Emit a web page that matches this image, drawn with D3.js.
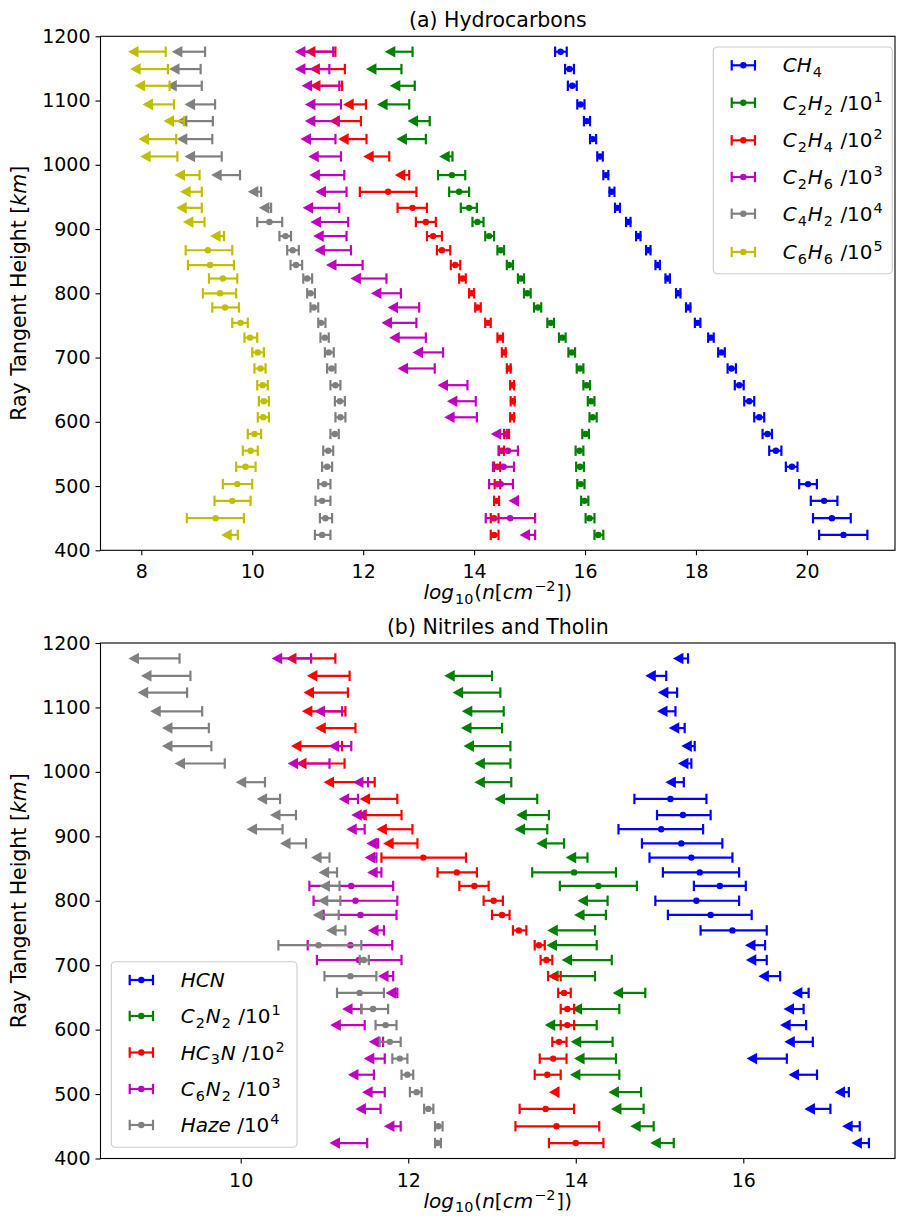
<!DOCTYPE html>
<html>
<head>
<meta charset="utf-8">
<title>Column densities by tangent height</title>
<script src="https://cdn.jsdelivr.net/npm/d3@7"></script>
<style>
  body { margin: 0; background: #fff; }
  text { font-family: "DejaVu Sans", sans-serif; fill: #000; }
</style>
</head>
<body>
<script>
// tangent heights (km), shared by both panels
heights = [1176, 1149, 1123, 1094, 1068, 1040, 1013, 984, 958, 933, 911, 889, 867, 844, 823, 800,
           778, 754, 731, 708, 683, 657, 632, 607, 581, 555, 530, 503, 477, 450, 424];

// rows: [lo, value, hi] = measured with error bar, [tip, cap] = upper limit, null = none
ch4 = [[15.46,15.56,15.67],[15.64,15.72,15.80],[15.69,15.77,15.85],[15.86,15.92,15.99],[15.98,16.03,16.09],[16.09,16.14,16.20],[16.22,16.27,16.32],[16.33,16.38,16.42],[16.44,16.48,16.53],[16.54,16.58,16.63],[16.74,16.78,16.82],[16.92,16.96,17.00],[17.10,17.14,17.18],[17.27,17.31,17.35],[17.45,17.49,17.53],[17.64,17.68,17.72],[17.82,17.86,17.90],[17.98,18.03,18.08],[18.22,18.27,18.32],[18.40,18.46,18.52],[18.57,18.64,18.72],[18.70,18.78,18.86],[18.87,18.96,19.05],[19.05,19.14,19.23],[19.20,19.29,19.37],[19.32,19.44,19.54],[19.62,19.73,19.83],[19.86,20.02,20.18],[20.07,20.31,20.55],[20.11,20.45,20.79],[20.22,20.66,21.09]];
c2h2 = [[12.39,12.89],[12.05,12.69],[12.48,12.93],[12.25,12.83],[12.80,13.20],[12.60,13.13],[13.37,13.61],[13.35,13.60,13.84],[13.55,13.73,13.91],[13.76,13.91,14.05],[13.97,14.06,14.17],[14.20,14.27,14.36],[14.42,14.48,14.54],[14.59,14.63,14.70],[14.79,14.84,14.90],[14.90,14.96,15.02],[15.08,15.15,15.21],[15.32,15.38,15.44],[15.53,15.59,15.65],[15.70,15.76,15.82],[15.85,15.91,15.97],[15.97,16.03,16.09],[16.05,16.11,16.17],[16.08,16.14,16.21],[15.95,16.01,16.07],[15.83,15.90,15.97],[15.84,15.91,15.98],[15.86,15.92,15.99],[15.93,15.99,16.06],[16.01,16.08,16.17],[16.17,16.24,16.33]];
c2h4 = [[10.95,11.50],[11.03,11.67],[11.04,11.62],[11.64,12.05],[11.39,11.96],[11.55,12.06],[12.00,12.47],[12.57,12.83],[11.94,12.45,12.96],[12.62,12.89,13.15],[12.95,13.13,13.31],[13.15,13.26,13.42],[13.33,13.42,13.57],[13.58,13.66,13.75],[13.73,13.79,13.85],[13.91,13.96,14.00],[14.02,14.06,14.12],[14.20,14.25,14.30],[14.42,14.47,14.52],[14.50,14.54,14.57],[14.59,14.63,14.66],[14.65,14.69,14.72],[14.66,14.70,14.73],[14.65,14.69,14.72],[14.54,14.59,14.63],[14.45,14.50,14.54],[14.36,14.42,14.47],[14.37,14.42,14.47],[14.36,14.41,14.45],[14.30,14.36,14.44],[14.30,14.36,14.44]];
c2h6 = [[10.77,11.46],[10.77,11.39],[10.89,11.57],[10.95,11.60],[10.95,11.55],[10.87,11.50],[11.01,11.60],[11.03,11.66],[11.14,11.70],[10.91,11.57],[11.05,11.73],[11.10,11.70],[11.12,11.78],[11.33,11.99],[11.77,12.42],[12.14,12.68],[12.44,13.01],[12.33,12.96],[12.47,13.13],[12.89,13.44],[12.62,13.29],[13.34,13.88],[13.51,14.03],[13.46,14.05],[14.30,14.59],[14.44,14.61,14.79],[14.34,14.53,14.72],[14.27,14.48,14.70],[14.62,14.79],[14.21,14.65,15.10],[14.82,15.10]];
c4h2 = [[8.55,9.15],[8.50,9.07],[8.45,9.09],[8.78,9.33],[8.64,9.29],[8.64,9.28],[8.78,9.45],[9.26,9.78],[9.92,10.16],[10.12,10.34],[10.09,10.31,10.54],[10.49,10.60,10.70],[10.63,10.73,10.84],[10.69,10.79,10.90],[10.92,10.99,11.08],[10.99,11.05,11.13],[11.05,11.11,11.19],[11.19,11.24,11.32],[11.23,11.31,11.38],[11.31,11.38,11.47],[11.35,11.43,11.50],[11.41,11.50,11.59],[11.49,11.58,11.67],[11.50,11.59,11.68],[11.41,11.49,11.56],[11.28,11.37,11.46],[11.26,11.35,11.44],[11.19,11.30,11.41],[11.14,11.26,11.41],[11.22,11.32,11.44],[11.13,11.26,11.41]];
c6h6 = [[7.76,8.44],[7.80,8.48],[7.88,8.51],[8.02,8.59],[8.40,8.77],[7.95,8.63],[7.98,8.65],[8.60,9.05],[8.70,9.09],[8.63,9.09],[8.75,9.14],[9.24,9.49],[8.80,9.20,9.64],[8.84,9.24,9.67],[9.22,9.47,9.73],[9.11,9.42,9.71],[9.28,9.51,9.76],[9.64,9.79,9.92],[9.86,9.96,10.09],[10.00,10.10,10.21],[10.04,10.15,10.24],[10.09,10.19,10.28],[10.12,10.21,10.30],[10.10,10.20,10.30],[9.92,10.04,10.16],[9.83,9.97,10.10],[9.71,9.88,10.06],[9.47,9.73,10.00],[9.32,9.64,9.97],[8.82,9.34,9.85],[9.44,9.74]];

hcn = [[15.16,15.34],[14.83,15.08],[14.98,15.21],[14.97,15.19],[15.11,15.30],[15.26,15.42],[15.22,15.38],[15.07,15.29],[14.70,15.13,15.56],[14.97,15.28,15.61],[14.51,15.02,15.52],[14.79,15.26,15.75],[14.88,15.38,15.87],[15.04,15.48,15.95],[15.41,15.72,16.03],[14.95,15.44,15.95],[15.10,15.61,16.10],[15.49,15.87,16.28],[16.02,16.26],[16.03,16.28],[16.18,16.44],[16.58,16.78],[16.48,16.72],[16.44,16.75],[16.49,16.83],[16.04,16.52],[16.54,16.88],[17.09,17.26],[16.73,17.04],[17.18,17.39],[17.29,17.50]];
c2n2 = [null,[12.43,13.00],[12.53,13.10],[12.64,13.14],[12.63,13.12],[12.66,13.22],[12.79,13.22],[12.79,13.23],[13.03,13.54],[13.29,13.68],[13.27,13.66],[13.53,13.86],[13.88,14.14],[13.48,13.98,14.48],[13.81,14.27,14.73],[14.02,14.38],[13.98,14.36],[13.66,14.23],[13.65,14.25],[13.83,14.43],[13.67,14.23],[14.44,14.83],[13.95,14.52],[13.63,14.25],[13.94,14.44],[13.98,14.48],[13.93,14.52],[14.39,14.78],[14.42,14.81],[14.65,14.93],[14.89,15.17]];
hc3n = [[10.54,11.13],[10.79,11.30],[10.75,11.28],[10.73,11.25],[10.89,11.37],[10.60,11.21],[10.66,11.24],[10.99,11.60],[11.42,11.87],[11.38,11.92],[11.62,12.05],[11.70,12.11],[11.68,12.18,12.69],[12.35,12.58,12.82],[12.61,12.79,12.96],[12.90,13.02,13.13],[13.00,13.12,13.21],[13.25,13.32,13.41],[13.51,13.56,13.63],[13.58,13.65,13.72],[13.67,13.75,13.82],[13.79,13.86,13.94],[13.82,13.90,13.98],[13.82,13.90,13.98],[13.72,13.80,13.89],[13.57,13.73,13.89],[13.51,13.66,13.82],[13.68,13.79],[13.33,13.64,13.98],[13.28,13.77,14.28],[13.68,14.00,14.33]];
c6n2 = [[10.37,10.84],null,null,[10.88,11.21],null,[11.05,11.32],[10.56,11.06],[11.34,11.52],[11.17,11.40],[11.32,11.48],[11.26,11.48],[11.50,11.64],[11.48,11.62],[11.51,11.68],[10.82,11.32,11.82],[10.87,11.37,11.87],[10.99,11.43,11.86],[11.52,11.71],[10.80,11.31,11.81],[10.91,11.41,11.92],[11.64,11.82],[11.73,11.87],[11.21,11.44],[11.07,11.48],[11.53,11.70],[11.47,11.72],[11.28,11.59],[11.45,11.72],[11.37,11.67],[11.71,11.91],[11.06,11.51]];
haze = [[8.66,9.27],[8.81,9.40],[8.77,9.36],[8.92,9.54],[9.06,9.62],[9.06,9.65],[9.21,9.81],[9.94,10.29],[10.19,10.47],[10.35,10.66],[10.07,10.50],[10.47,10.78],[10.84,11.06],[10.93,11.15],[10.94,11.18],[10.92,11.19],[10.86,11.17],[11.02,11.25],[10.45,10.93,11.44],[11.42,11.47,11.53],[11.00,11.31,11.62],[11.15,11.42,11.71],[11.44,11.58,11.76],[11.61,11.73,11.86],[11.66,11.78,11.91],[11.81,11.90,11.99],[11.92,11.99,12.06],[12.02,12.10,12.16],[12.19,12.24,12.30],[12.32,12.36,12.41],[12.32,12.35,12.39]];

topLabels = ["CH_4", "C_2H_2 /10^1", "C_2H_4 /10^2", "C_2H_6 /10^3", "C_4H_2 /10^4", "C_6H_6 /10^5"];
bottomLabels = ["HCN", "C_2N_2 /10^1", "HC_3N /10^2", "C_6N_2 /10^3", "Haze /10^4"];
colors = ["#0000ff", "#008000", "#ff0000", "#bf00bf", "#808080", "#bfbf00"];
yTicks = [400, 500, 600, 700, 800, 900, 1000, 1100, 1200];

panels = [
  {
    title: "(a) Hydrocarbons", top: 36.3, bottom: 550.3,
    xDomain: [7.2645, 21.588], xTicks: [8, 10, 12, 14, 16, 18, 20],
    series: [ch4, c2h2, c2h4, c2h6, c4h2, c6h6], labels: topLabels,
    legend: { x: 713.3, y: 47, w: 179, h: 226.7, rows: [18.3, 55.7, 93.3, 130, 166.7, 205] }
  },
  {
    title: "(b) Nitriles and Tholin", top: 643, bottom: 1158.5,
    xDomain: [8.3264, 17.811], xTicks: [10, 12, 14, 16],
    series: [hcn, c2n2, hc3n, c6n2, haze], labels: bottomLabels,
    legend: { x: 111.3, y: 961.7, w: 185.7, h: 185.6, rows: [18.3, 54.3, 90.8, 127.3, 163.3] }
  }
];

left = 100.5;
right = 895;
fs = 19;

svg = d3.select("body").append("svg")
  .attr("width", 897)
  .attr("height", 1216);

// letters italic, _n subscript, ^n superscript, the rest upright
function mathText(sel, str, size) {
  var parts = str.match(/_\d+|\^[−-]?\d+|[A-Za-z]+|[^A-Za-z_^]+/g);
  var shift = 0;
  parts.forEach(function(p) {
    var t = sel.append("tspan"), target = 0;
    if (p[0] == "_") {
      target = 0.24 * size;
      t.text(p.slice(1)).attr("font-size", size * 0.72).attr("dx", 0.05 * size);
    } else if (p[0] == "^") {
      target = -0.4 * size;
      t.text(p.slice(1).replace("-", "−")).attr("font-size", size * 0.72).attr("dx", 0.05 * size);
    } else {
      t.text(p);
      if (/[A-Za-z]/.test(p)) t.attr("font-style", "italic");
      if (shift != 0) t.attr("dx", 0.05 * size);
    }
    t.attr("dy", target - shift);
    shift = target;
  });
}

function errorMark(g, color, lo, mid, hi, yy, isLimit) {
  g.append("line")
    .attr("x1", isLimit ? lo + 6 : lo).attr("x2", hi)
    .attr("y1", yy).attr("y2", yy)
    .attr("stroke", color).attr("stroke-width", 2.2);
  g.append("line")
    .attr("x1", hi).attr("x2", hi)
    .attr("y1", yy - 5.2).attr("y2", yy + 5.2)
    .attr("stroke", color).attr("stroke-width", 2.2);
  if (isLimit) {
    g.append("path")
      .attr("d", "M" + lo + "," + yy + "L" + (lo + 10.5) + "," + (yy - 5.8) + "L" + (lo + 10.5) + "," + (yy + 5.8) + "Z")
      .attr("fill", color);
  } else {
    g.append("line")
      .attr("x1", lo).attr("x2", lo)
      .attr("y1", yy - 5.2).attr("y2", yy + 5.2)
      .attr("stroke", color).attr("stroke-width", 2.2);
    g.append("circle")
      .attr("cx", mid).attr("cy", yy).attr("r", 3.2)
      .attr("fill", color);
  }
}

panels.forEach(function(p) {
  var x = d3.scaleLinear().domain(p.xDomain).range([left, right]);
  var y = d3.scaleLinear().domain([400, 1200]).range([p.bottom, p.top]);
  var g = svg.append("g");

  // series, first drawn at the back
  p.series.forEach(function(rows, si) {
    var sg = g.append("g");
    rows.forEach(function(r, i) {
      if (!r) return;
      var yy = y(heights[i]);
      if (r.length == 2) errorMark(sg, colors[si], x(r[0]), x(r[1]), x(r[1]), yy, true);
      else errorMark(sg, colors[si], x(r[0]), x(r[1]), x(r[2]), yy, false);
    });
  });

  // axes
  var xAxis = g.append("g")
    .attr("transform", "translate(0," + p.bottom + ")")
    .call(d3.axisBottom(x).tickValues(p.xTicks).tickFormat(d3.format("d")).tickSizeOuter(0).tickSize(5).tickPadding(5));
  var yAxis = g.append("g")
    .attr("transform", "translate(" + left + ",0)")
    .call(d3.axisLeft(y).tickValues(yTicks).tickFormat(d3.format("d")).tickSizeOuter(0).tickSize(5).tickPadding(5));
  [xAxis, yAxis].forEach(function(a) {
    a.select(".domain").remove();
    a.selectAll(".tick line").attr("stroke", "#000").attr("stroke-width", 1.1);
    a.selectAll(".tick text").attr("font-size", fs).attr("font-family", "DejaVu Sans").attr("fill", "#000");
  });
  xAxis.selectAll(".tick text").attr("dy", "0.95em");
  g.append("rect")
    .attr("x", left).attr("y", p.top)
    .attr("width", right - left).attr("height", p.bottom - p.top)
    .attr("fill", "none").attr("stroke", "#000").attr("stroke-width", 1.1);

  // titles
  g.append("text")
    .attr("x", (left + right) / 2).attr("y", p.top - 9.5)
    .attr("text-anchor", "middle").attr("font-size", 20.5)
    .text(p.title);
  var xl = g.append("text")
    .attr("x", (left + right) / 2).attr("y", p.bottom + 49)
    .attr("text-anchor", "middle").attr("font-size", 20);
  mathText(xl, "log_10(n[cm^-2])", 20);
  var yl = g.append("text")
    .attr("transform", "translate(26," + (p.top + p.bottom) / 2 + ") rotate(-90)")
    .attr("text-anchor", "middle").attr("font-size", 20.5);
  yl.append("tspan").text("Ray Tangent Height [");
  yl.append("tspan").attr("font-style", "italic").text("km");
  yl.append("tspan").text("]");

  // legend
  var L = p.legend;
  var lg = g.append("g").attr("transform", "translate(" + L.x + "," + L.y + ")");
  lg.append("rect")
    .attr("width", L.w).attr("height", L.h).attr("rx", 4)
    .attr("fill", "#fff").attr("fill-opacity", 0.8)
    .attr("stroke", "#cccccc").attr("stroke-width", 1.1);
  p.labels.forEach(function(lab, i) {
    var row = lg.append("g").attr("transform", "translate(0," + L.rows[i] + ")");
    errorMark(row, colors[i], 18.4, 30, 41.7, 0, false);
    var t = row.append("text").attr("x", 69.4).attr("y", 7).attr("font-size", 20);
    mathText(t, lab, 20);
  });
});
</script>
</body>
</html>
